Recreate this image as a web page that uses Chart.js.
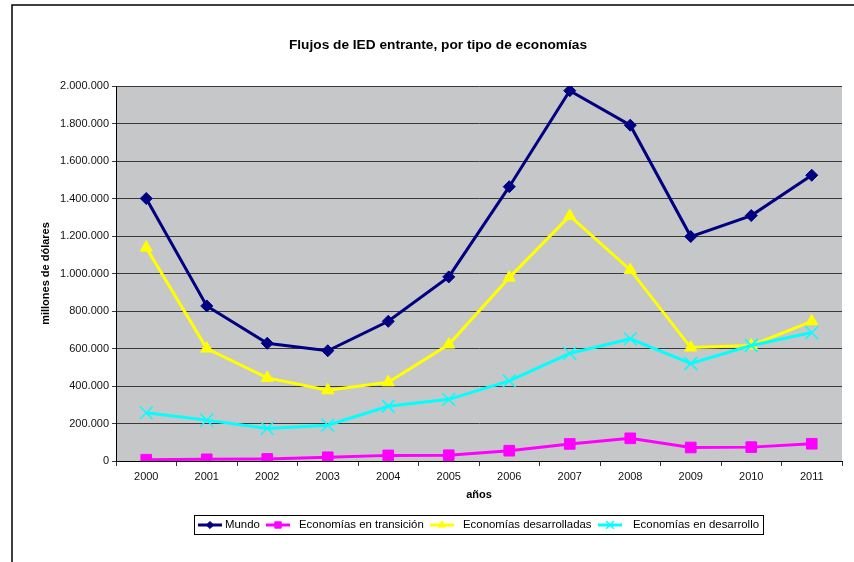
<!DOCTYPE html>
<html>
<head>
<meta charset="utf-8">
<script src="https://cdn.jsdelivr.net/npm/chart.js@4"></script>
<style>
  html, body { margin: 0; padding: 0; background: #fff; }
  #chart { display: block; }
</style>
</head>
<body>
<canvas id="chart" width="854" height="562"></canvas>
<script>
const years = ['2000', '2001', '2002', '2003', '2004', '2005', '2006', '2007', '2008', '2009', '2010', '2011'];
const mundo = [1400000, 827000, 628000, 588000, 745000, 982000, 1463000, 1975000, 1791000, 1197000, 1309000, 1524000];
const transicion = [7000, 9000, 11000, 20000, 30000, 31000, 55000, 91000, 121000, 72000, 74000, 92000];
const desarrolladas = [1138000, 600000, 443000, 377000, 420000, 621000, 978000, 1307000, 1019000, 605000, 616000, 745000];
const desarrollo = [257000, 218000, 174000, 191000, 292000, 329000, 427000, 574000, 651000, 520000, 616000, 685000];

const seriesNames = ['Mundo', 'Economías en transición', 'Economías desarrolladas', 'Economías en desarrollo'];
const FONT = '"Liberation Sans", Arial, sans-serif';

// numbers like 1.200.000
function fmt(v) {
    return String(v).replace(/\B(?=(\d{3})+(?!\d))/g, '.');
}

function series(label, data, color, style, radius, order, bw) {
    return {
        label: label,
        data: data,
        borderColor: color,
        backgroundColor: color,
        borderWidth: 3,
        pointStyle: style,
        pointRadius: radius,
        pointBorderColor: color,
        pointBackgroundColor: color,
        pointBorderWidth: bw,
        tension: 0,
        order: order
    };
}

// grey plot area, outer frame, title
const decor = {
    id: 'decor',
    beforeDraw(chart) {
        const { ctx, chartArea: a } = chart;
        ctx.save();
        ctx.fillStyle = '#fff';
        ctx.fillRect(0, 0, chart.width, chart.height);
        ctx.fillStyle = '#c6c7c9';
        ctx.fillRect(a.left, a.top, a.right - a.left, a.bottom - a.top);
        ctx.strokeStyle = '#000';
        ctx.lineWidth = 1.5;
        ctx.beginPath();
        ctx.moveTo(12, 562);
        ctx.lineTo(12, 5);
        ctx.lineTo(854, 5);
        ctx.stroke();
        ctx.fillStyle = '#000';
        ctx.font = 'bold 13.7px ' + FONT;
        ctx.textAlign = 'center';
        ctx.textBaseline = 'middle';
        ctx.fillText('Flujos de IED entrante, por tipo de economías', 438, 45);
        ctx.restore();
    }
};

// Excel-like legend box at the bottom
const boxLegend = {
    id: 'boxLegend',
    afterDraw(chart) {
        const { ctx } = chart;
        const sampleX = [198, 266, 430, 598];
        const textX = [225, 299, 463, 633];
        const y = 525;
        ctx.save();
        ctx.strokeStyle = '#000';
        ctx.lineWidth = 1;
        ctx.strokeRect(194.5, 515.5, 569, 19);
        ctx.font = '11.4px ' + FONT;
        ctx.textBaseline = 'middle';
        ctx.textAlign = 'left';
        chart.data.datasets.forEach((ds, i) => {
            const x0 = sampleX[i];
            ctx.strokeStyle = ds.borderColor;
            ctx.lineWidth = 3;
            ctx.beginPath();
            ctx.moveTo(x0, y);
            ctx.lineTo(x0 + 24, y);
            ctx.stroke();
            ctx.fillStyle = ds.borderColor;
            ctx.lineWidth = ds.pointBorderWidth;
            Chart.helpers.drawPoint(ctx, {
                pointStyle: ds.pointStyle,
                rotation: 0,
                radius: ds.pointRadius * 0.6,
                borderWidth: ds.pointBorderWidth
            }, x0 + 12, y);
            ctx.fillStyle = '#000';
            ctx.fillText(ds.label, textX[i], y);
        });
        ctx.restore();
    }
};

new Chart(document.getElementById('chart'), {
    type: 'line',
    data: {
        labels: years,
        datasets: [
            series(seriesNames[0], mundo, '#000080', 'rectRot', 6, 4, 1),
            series(seriesNames[1], transicion, '#ff00ff', 'rect', 7.5, 3, 1),
            series(seriesNames[2], desarrolladas, '#ffff00', 'triangle', 7, 2, 1),
            series(seriesNames[3], desarrollo, '#00ffff', 'crossRot', 9, 1, 1.5)
        ]
    },
    options: {
        responsive: false,
        animation: false,
        events: [],
        layout: { padding: { left: 12, right: 12, top: 86, bottom: 60 } },
        plugins: {
            legend: { display: false },
            title: { display: false },
            tooltip: { enabled: false }
        },
        scales: {
            x: {
                offset: true,
                grid: { offset: true, drawOnChartArea: false, drawTicks: true, tickLength: 5, color: '#333' },
                border: { color: '#000', width: 1 },
                ticks: { color: '#111', font: { family: FONT, size: 11 }, padding: 4, maxRotation: 0 },
                title: { display: true, text: 'años', color: '#000', font: { family: FONT, size: 11, weight: 'bold' }, padding: 0 },
                afterFit(scale) { scale.height = 41; }
            },
            y: {
                min: 0,
                max: 2000000,
                grid: { color: '#3a3a3a', lineWidth: 1, tickLength: 4, drawTicks: true },
                border: { color: '#000', width: 1 },
                ticks: {
                    stepSize: 200000,
                    color: '#111',
                    padding: 3,
                    font: { family: FONT, size: 11 },
                    callback: v => fmt(v)
                },
                title: {
                    display: true,
                    text: 'millones de dólares',
                    color: '#000',
                    font: { family: FONT, size: 11, weight: 'bold' },
                    padding: { top: 27, bottom: 0 }
                },
                afterFit(scale) { scale.width = 104; }
            }
        }
    },
    plugins: [decor, boxLegend]
});
</script>
</body>
</html>
